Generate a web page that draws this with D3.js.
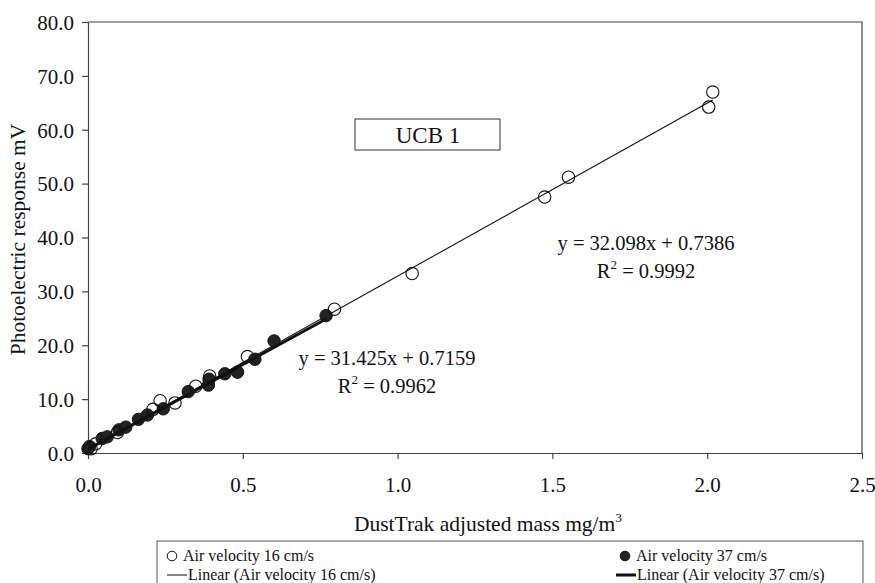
<!DOCTYPE html>
<html><head><meta charset="utf-8">
<script src="https://cdn.jsdelivr.net/npm/d3@7"></script>
<style>body{margin:0;background:#fff}svg{display:block}text{font-family:"Liberation Serif","Times New Roman",serif;fill:#111}</style>
</head><body><svg id="c" width="875" height="583"></svg>
<script>
// Data
const x16 = [0.01, 0.025, 0.095, 0.210, 0.233, 0.281, 0.348, 0.393, 0.515, 0.796, 1.047, 1.475, 1.552, 2.005, 2.018];
const y16 = [0.8, 1.7, 3.8, 8.1, 9.7, 9.3, 12.4, 14.3, 17.9, 26.7, 33.3, 47.5, 51.2, 64.2, 67.0];
const x37 = [0.0, 0.005, 0.046, 0.062, 0.100, 0.122, 0.163, 0.192, 0.243, 0.324, 0.389, 0.391, 0.442, 0.483, 0.539, 0.601, 0.769];
const y37 = [0.8, 1.2, 2.7, 3.0, 4.3, 4.8, 6.25, 7.05, 8.2, 11.4, 12.6, 13.7, 14.7, 15.0, 17.4, 20.8, 25.5];
const fit16 = {slope: 32.098, intercept: 0.7386, r2: "0.9992"};
const fit37 = {slope: 31.425, intercept: 0.7159, r2: "0.9962"};
const xTicks = [0, 0.5, 1.0, 1.5, 2.0, 2.5];
const yTicks = [0, 10, 20, 30, 40, 50, 60, 70, 80];
const seriesNames = ["Air velocity 16 cm/s", "Air velocity 37 cm/s"];

const svg = d3.select("#c");
const L = 88, R = 862, T = 22, B = 453;
const x = d3.scaleLinear().domain([0, 2.5]).range([L, R]);
const y = d3.scaleLinear().domain([0, 80]).range([B, T]);

// plot frame (top and right)
svg.append("path").attr("d", `M${L},${T}H${R}V${B}`).attr("fill","none").attr("stroke","#444").attr("stroke-width",1.2);

const xAxis = svg.append("g").attr("transform",`translate(0,${B})`)
  .call(d3.axisBottom(x).tickValues(xTicks).tickFormat(d3.format(".1f")).tickSizeInner(6).tickSizeOuter(0));
const yAxis = svg.append("g").attr("transform",`translate(${L},0)`)
  .call(d3.axisLeft(y).tickValues(yTicks).tickFormat(d3.format(".1f")).tickSizeInner(6).tickSizeOuter(0).tickPadding(8));
[xAxis, yAxis].forEach(g => {
  g.selectAll("path,line").attr("stroke","#444").attr("stroke-width",1.2);
  g.selectAll("text").style("font-family",'"Liberation Serif",serif').style("font-size","21px").attr("fill","#111");
});
xAxis.selectAll("text").attr("y", 39).attr("dy", null);
yAxis.selectAll("text").attr("dy","0.35em");

// axis titles
svg.append("text").attr("x", 488).attr("y", 531).attr("text-anchor","middle").style("font-size","21.5px")
  .html('DustTrak adjusted mass mg/m<tspan dy="-9" font-size="13.5px">3</tspan>');
svg.append("text").attr("transform",`translate(25,${(T+B)/2+2}) rotate(-90)`).attr("text-anchor","middle").style("font-size","21.5px")
  .text("Photoelectric response mV");

// trendlines
function trend(fit, xs, w) {
  const ext = d3.extent(xs);
  svg.append("line").attr("x1", x(ext[0])).attr("y1", y(fit.slope*ext[0]+fit.intercept))
    .attr("x2", x(ext[1])).attr("y2", y(fit.slope*ext[1]+fit.intercept))
    .attr("stroke","#111").attr("stroke-width", w);
}
trend(fit16, x16, 1.1);

// filled points 37
svg.append("g").selectAll("circle").data(x37.map((d,i)=>[d,y37[i]])).join("circle")
  .attr("cx", d=>x(d[0])).attr("cy", d=>y(d[1])).attr("r", 6.2)
  .attr("fill","#222").attr("stroke","#111").attr("stroke-width",1);
trend(fit37, x37, 3);
// open points 16
svg.append("g").selectAll("circle").data(x16.map((d,i)=>[d,y16[i]])).join("circle")
  .attr("cx", d=>x(d[0])).attr("cy", d=>y(d[1])).attr("r", 6.2)
  .attr("fill","none").attr("stroke","#111").attr("stroke-width",1.1);

// UCB 1 box
svg.append("rect").attr("x",355).attr("y",119).attr("width",145).attr("height",31).attr("fill","#fff").attr("stroke","#333");
svg.append("text").attr("x",428).attr("y",143).attr("text-anchor","middle").style("font-size","23px").text("UCB 1");

// equations
function eq(fit, cx, cy) {
  svg.append("text").attr("x",cx).attr("y",cy).attr("text-anchor","middle").style("font-size","20.5px")
    .text(`y = ${fit.slope}x + ${fit.intercept}`);
  svg.append("text").attr("x",cx).attr("y",cy+28).attr("text-anchor","middle").style("font-size","20.5px")
    .html(`R<tspan dy="-9" font-size="13px">2</tspan><tspan dy="9"> = ${fit.r2}</tspan>`);
}
eq(fit16, 646, 250);
eq(fit37, 387, 365);

// legend
const lg = svg.append("g");
lg.append("rect").attr("x",157).attr("y",541).attr("width",706).attr("height",60).attr("fill","#fff").attr("stroke","#555");
const cols = [167, 620];
lg.append("circle").attr("cx",cols[0]+5).attr("cy",556).attr("r",4.8).attr("fill","none").attr("stroke","#111");
lg.append("circle").attr("cx",cols[1]+5).attr("cy",556).attr("r",4.8).attr("fill","#222").attr("stroke","#111");
lg.append("line").attr("x1",cols[0]).attr("x2",cols[0]+20).attr("y1",575).attr("y2",575).attr("stroke","#333").attr("stroke-width",1.2);
lg.append("line").attr("x1",cols[1]-4).attr("x2",cols[1]+16).attr("y1",575).attr("y2",575).attr("stroke","#111").attr("stroke-width",3);
const lt = [[cols[0]+16,561,seriesNames[0]],[cols[1]+16,561,seriesNames[1]],
  [cols[0]+21,580,`Linear (${seriesNames[0]})`],[cols[1]+17,580,`Linear (${seriesNames[1]})`]];
lg.selectAll("text").data(lt).join("text").attr("x",d=>d[0]).attr("y",d=>d[1]).style("font-size","16px").text(d=>d[2]);
</script></body></html>
